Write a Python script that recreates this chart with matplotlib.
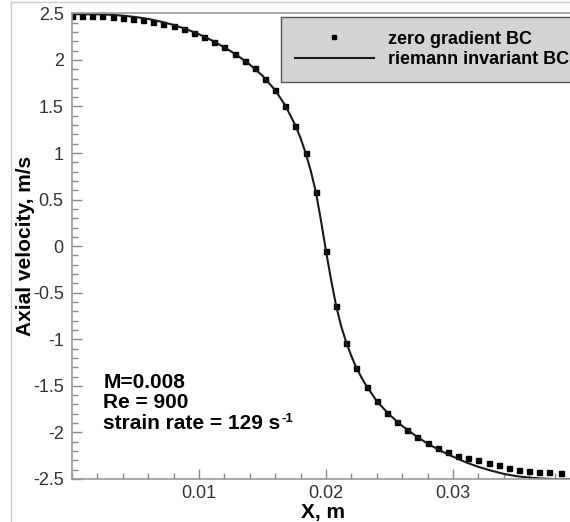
import numpy as np
import matplotlib
matplotlib.use('Agg')
import matplotlib.pyplot as plt
from matplotlib.ticker import MultipleLocator
from matplotlib.lines import Line2D

plt.rcParams['font.family'] = ['Liberation Sans', 'DejaVu Sans']

# zero gradient BC (symbols), x in m, velocity in m/s
x_zg = [0.0000, 0.0008, 0.0016, 0.0024, 0.0032, 0.0040, 0.0048, 0.0056, 0.0064, 0.0072,
        0.0080, 0.0088, 0.0096, 0.0104, 0.0112, 0.0120, 0.0128, 0.0136, 0.0144, 0.0152,
        0.0160, 0.0168, 0.0176, 0.0184, 0.0192, 0.0200, 0.0208, 0.0216, 0.0224, 0.0232,
        0.0240, 0.0248, 0.0256, 0.0264, 0.0272, 0.0280, 0.0288, 0.0296, 0.0304, 0.0312,
        0.0320, 0.0328, 0.0336, 0.0344, 0.0352, 0.0360, 0.0368, 0.0376, 0.0385]
u_zg = [2.470, 2.467, 2.467, 2.466, 2.463, 2.455, 2.442, 2.428, 2.407, 2.386,
        2.360, 2.327, 2.288, 2.245, 2.195, 2.134, 2.066, 1.990, 1.908, 1.800,
        1.672, 1.507, 1.294, 1.005, 0.586, -0.050, -0.642, -1.036, -1.312, -1.509,
        -1.663, -1.789, -1.886, -1.975, -2.047, -2.115, -2.165, -2.205, -2.250, -2.270,
        -2.300, -2.326, -2.350, -2.379, -2.400, -2.414, -2.425, -2.430, -2.440]

# riemann invariant BC (line)
x_ri = [0.000, 0.001, 0.002, 0.003, 0.004, 0.005, 0.006, 0.007, 0.008, 0.009,
        0.010, 0.011, 0.012, 0.013, 0.014, 0.015, 0.016, 0.0168, 0.0176, 0.0180,
        0.0184, 0.0188, 0.0192, 0.0196, 0.0200, 0.0204, 0.0208, 0.0212, 0.0216, 0.0220,
        0.0224, 0.023, 0.024, 0.025, 0.026, 0.027, 0.028, 0.029, 0.030, 0.031,
        0.032, 0.033, 0.034, 0.035, 0.036, 0.037, 0.038, 0.0395]
u_ri = [2.490, 2.490, 2.490, 2.485, 2.475, 2.460, 2.440, 2.410, 2.375, 2.330,
        2.275, 2.210, 2.135, 2.050, 1.950, 1.830, 1.675, 1.510, 1.295, 1.160,
        1.000, 0.810, 0.585, 0.280, -0.050, -0.360, -0.640, -0.860, -1.035, -1.180,
        -1.310, -1.460, -1.665, -1.810, -1.930, -2.030, -2.120, -2.195, -2.260, -2.320,
        -2.370, -2.410, -2.445, -2.470, -2.485, -2.495, -2.500, -2.500]

fig = plt.figure(figsize=(5.7, 5.22), dpi=100)
ax = fig.add_axes([0.1263, 0.0824, 0.880, 0.8921])

ax.plot(x_zg, u_zg, 's', color='black', markersize=3.6, label='zero gradient BC')
ax.plot(x_ri, u_ri, '-', color='#1a1a1a', linewidth=1.5, label='riemann invariant BC')

ax.set_xlim(0, 0.0395)
ax.set_ylim(-2.5, 2.5)
ax.xaxis.set_minor_locator(MultipleLocator(0.002))
ax.yaxis.set_minor_locator(MultipleLocator(0.1))
ax.set_xticks([0.01, 0.02, 0.03])
ax.set_xticklabels(['0.01', '0.02', '0.03'])
yt = np.arange(-2.5, 2.51, 0.5)
ax.set_yticks(yt)
ax.set_yticklabels(['%g' % v if abs(v) > 1e-9 else '0' for v in yt])

ax.tick_params(which='both', direction='in', color='#888888', labelcolor='#333333',
               labelsize=13, top=False, right=False)
ax.tick_params(which='major', length=7.5, width=1.0)
ax.tick_params(which='minor', length=4.0, width=1.0)
ax.tick_params(axis='y', pad=6)
ax.tick_params(axis='x', pad=4)
for s in ax.spines.values():
    s.set_color('#999999')
    s.set_linewidth(1.2)

ax.set_xlabel('X, m', fontsize=15, fontweight='bold', labelpad=1)
ax.set_ylabel('Axial velocity, m/s', fontsize=15, fontweight='bold', labelpad=-1.5)

ax.text(0.0626, 0.196, 'M=0.008', transform=ax.transAxes, fontsize=15,
        fontweight='bold', va='baseline')
ax.text(0.0626, 0.153, 'Re = 900', transform=ax.transAxes, fontsize=15,
        fontweight='bold', va='baseline')
t = ax.text(0.0626, 0.1067, 'strain rate = 129 s', transform=ax.transAxes,
            fontsize=15, fontweight='bold', va='baseline')
ax.annotate('-1', xy=(1, 0), xycoords=t, xytext=(0.5, 8.2), textcoords='offset points',
            fontsize=9.5, fontweight='bold', va='baseline', ha='left')

leg = ax.legend(loc='upper left', bbox_to_anchor=(281 / 570, 1 - 17 / 522),
                bbox_transform=fig.transFigure, numpoints=1, handlelength=4.4,
                handletextpad=0.8, borderpad=0.75, labelspacing=0.2, fancybox=False,
                framealpha=1, facecolor='#d3d3d3', edgecolor='#555555',
                prop={'size': 13, 'weight': 'bold'}, borderaxespad=0, markerscale=0.85)
leg.get_frame().set_linewidth(1.0)

# light outer frame of the picture
fig.add_artist(Line2D([11 / 570, 11 / 570], [0, 1 - 2 / 522], transform=fig.transFigure,
                      color='#cccccc', linewidth=1.0))
fig.add_artist(Line2D([11 / 570, 1], [1 - 2 / 522, 1 - 2 / 522], transform=fig.transFigure,
                      color='#cccccc', linewidth=1.0))

fig.savefig('out.png', dpi=100)
